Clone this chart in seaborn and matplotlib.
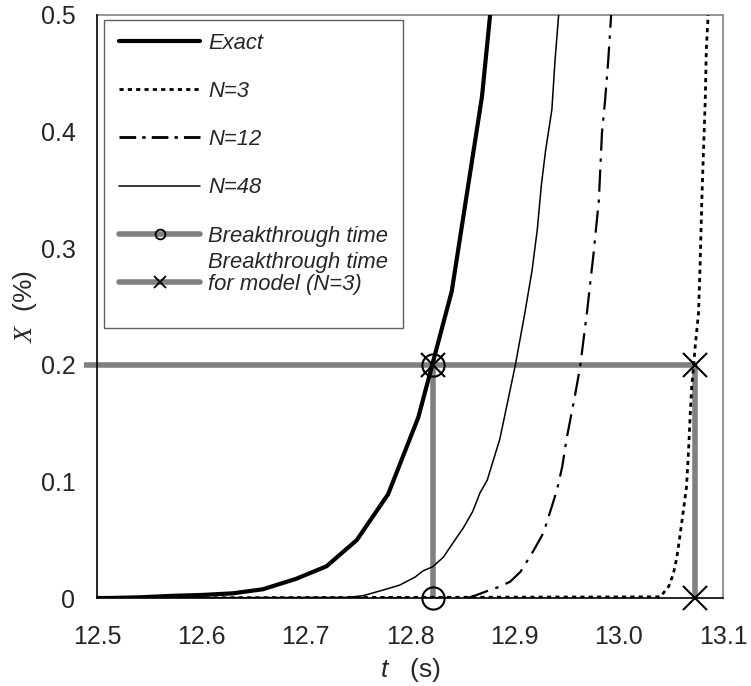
import numpy as np
import pandas as pd
import matplotlib
matplotlib.use("Agg")
import matplotlib.pyplot as plt
import seaborn as sns
from matplotlib.lines import Line2D
from matplotlib.patches import Rectangle

# ---------------- data ----------------
t_exact = [12.50, 12.511, 12.541, 12.570, 12.600, 12.630, 12.659, 12.691, 12.720,
           12.749, 12.779, 12.808, 12.840, 12.869, 12.899]
x_exact = [0.0, 0.0, 0.0006, 0.0018, 0.0026, 0.0040, 0.0075, 0.0165, 0.0272,
           0.0497, 0.089, 0.155, 0.263, 0.430, 0.700]

t_n48 = [12.50, 12.740, 12.755, 12.771, 12.790, 12.805, 12.812, 12.822, 12.832,
         12.841, 12.851, 12.860, 12.867, 12.874, 12.886, 12.894, 12.901, 12.910,
         12.917, 12.922, 12.926, 12.930, 12.936, 12.939, 12.943, 12.947]
x_n48 = [0.0, 0.0005, 0.002, 0.006, 0.011, 0.018, 0.023, 0.027, 0.035,
         0.047, 0.060, 0.074, 0.090, 0.101, 0.136, 0.170, 0.200, 0.244,
         0.281, 0.316, 0.355, 0.384, 0.419, 0.461, 0.506, 0.540]

t_n12 = [12.50, 12.855, 12.864, 12.877, 12.886, 12.896, 12.906, 12.918, 12.928,
         12.934, 12.941, 12.946, 12.950, 12.953, 12.958, 12.963, 12.9695, 12.976,
         12.981, 12.984, 12.987, 12.990, 12.9925, 12.995]
x_n12 = [0.0, 0.0, 0.0026, 0.007, 0.0097, 0.014, 0.0226, 0.040, 0.056,
         0.073, 0.093, 0.113, 0.136, 0.150, 0.173, 0.198, 0.244, 0.296,
         0.341, 0.399, 0.427, 0.461, 0.496, 0.530]

t_n3 = [12.50, 13.040, 13.048, 13.0525, 13.0558, 13.059, 13.062, 13.065, 13.067,
        13.0686, 13.070, 13.0717, 13.0733, 13.0765, 13.078, 13.0797, 13.0813,
        13.083, 13.084, 13.086, 13.087]
x_n3 = [0.0, 0.001, 0.010, 0.021, 0.035, 0.055, 0.075, 0.095, 0.127,
        0.158, 0.181, 0.198, 0.2155, 0.244, 0.284, 0.341, 0.384,
        0.427, 0.470, 0.504, 0.530]

bt_exact = 12.822      # breakthrough time (exact)
bt_model = 13.073      # breakthrough time for model N=3
x_thresh = 0.2

series_labels = ["Exact", "N=3", "N=12", "N=48", "Breakthrough time", "for model (N=3)"]
model_label_top = "Breakthrough time"
xticks = [12.5, 12.6, 12.7, 12.8, 12.9, 13.0, 13.1]
xtick_labels = ["12.5", "12.6", "12.7", "12.8", "12.9", "13.0", "13.1"]
yticks = [0, 0.1, 0.2, 0.3, 0.4, 0.5]
ytick_labels = ["0", "0.1", "0.2", "0.3", "0.4", "0.5"]

# ---------------- style ----------------
sns.set_style("white")
plt.rcParams["font.family"] = ["Liberation Sans", "DejaVu Sans"]
plt.rcParams["mathtext.fontset"] = "custom"
plt.rcParams["mathtext.it"] = "Liberation Serif:italic"
plt.rcParams["mathtext.sf"] = "Liberation Sans:italic"
plt.rcParams["mathtext.rm"] = "Liberation Sans"

GRAY = "#808080"
W, H = 751, 686

fig = plt.figure(figsize=(W / 100, H / 100), dpi=100)
ax = fig.add_axes([97 / W, 1 - 598 / H, (723 - 97) / W, (598 - 15) / H])

# breakthrough guide lines (gray, thick)
ax.plot([12.488, bt_model], [x_thresh, x_thresh], color=GRAY, lw=4, solid_capstyle="butt",
        clip_on=False, zorder=2)
ax.plot([bt_exact, bt_exact], [0, x_thresh], color=GRAY, lw=4, solid_capstyle="butt", zorder=2)
ax.plot([bt_model, bt_model], [0, x_thresh], color=GRAY, lw=4, solid_capstyle="butt", zorder=2)

# curves
def draw(t, x, **kw):
    df = pd.DataFrame({"t": t, "X": x})
    sns.lineplot(data=df, x="t", y="X", ax=ax, estimator=None, color="black", **kw)

draw(t_exact, x_exact, linewidth=3.0, zorder=4)
draw(t_n3, x_n3, linewidth=2.0, linestyle=(0, (1.5, 1.5)), zorder=3)
draw(t_n12, x_n12, linewidth=1.6, linestyle=(0, (10, 3.5, 1.5, 3.5)), zorder=3)
draw(t_n48, x_n48, linewidth=1.1, zorder=3)

# markers
ax.plot([bt_exact, bt_exact], [x_thresh, 0], ls="none", marker="o", ms=16, mfc="none",
        mec="black", mew=1.5, zorder=5, clip_on=False)
ax.plot([bt_exact, bt_model, bt_model], [x_thresh, x_thresh, 0], ls="none", marker="x",
        ms=17, mec="black", mew=1.5, zorder=5, clip_on=False)

# axes
ax.set_xlim(12.5, 13.1)
ax.set_ylim(0, 0.5)
ax.set_xticks(xticks)
ax.set_xticklabels(xtick_labels)
ax.set_yticks(yticks)
ax.set_yticklabels(ytick_labels)
ax.tick_params(axis="both", which="both", direction="out", labelsize=18,
               color="black", width=1)
ax.tick_params(axis="x", length=5.5, pad=14)
ax.tick_params(axis="y", length=8.5, pad=7)
for s in ["top", "right"]:
    ax.spines[s].set_color(GRAY)
    ax.spines[s].set_linewidth(1.2)
for s in ["left", "bottom"]:
    ax.spines[s].set_color("black")
    ax.spines[s].set_linewidth(1.2)
    ax.spines[s].set_zorder(6)

ax.set_xlabel(r"$\mathsf{t}$   (s)", fontsize=19, labelpad=5)
ax.set_ylabel(r"$\mathit{X}$  (%)", fontsize=19, labelpad=1)

# legend frame (drawn by hand so the wrapped last entry sits like the original)
frame = Rectangle((104 / W, 1 - 328 / H), 299 / W, 308 / H, transform=fig.transFigure,
                  facecolor="white", edgecolor="#606060", lw=1.0, zorder=6.5, clip_on=False)
ax.add_patch(frame)

handles = [
    Line2D([], [], color="black", lw=3.0),
    Line2D([], [], color="black", lw=2.0, ls=(0, (1.5, 1.5))),
    Line2D([], [], color="black", lw=2.0, ls=(0, (6, 2.2, 1.2, 2.2))),
    Line2D([], [], color="black", lw=1.1),
    Line2D([], [], color=GRAY, lw=4, marker="o", ms=7, mfc="none", mec="black", mew=1.3),
    Line2D([], [], color=GRAY, lw=4, marker="x", ms=8, mec="black", mew=1.3),
]
leg = ax.legend(handles, series_labels, loc="upper left", bbox_to_anchor=(0.011, 0.996),
                borderaxespad=0, handlelength=3.7, handletextpad=0.35,
                labelspacing=1.24, borderpad=0.7, frameon=False,
                prop={"style": "italic", "size": 15.8})
leg.set_zorder(7)

fig.canvas.draw()
bb = leg.get_texts()[5].get_window_extent()
fig.text(bb.x0 / W, ((bb.y0 + bb.y1) / 2 + 22) / H, model_label_top, ha="left", va="center",
         fontsize=15.8, style="italic", zorder=8)

fig.savefig("out.png", dpi=100)
